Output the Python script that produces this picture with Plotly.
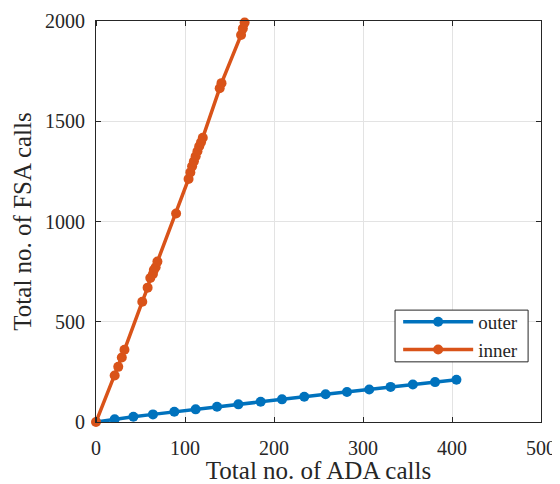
import plotly.graph_objects as go

outer_ada = [0, 21, 42, 64, 88, 112, 136, 160, 185, 209, 234, 258, 282, 307, 331, 356, 381, 405]
outer_fsa = [0, 14, 26, 38, 51, 63, 76, 88, 101, 113, 126, 138, 150, 162, 175, 187, 199, 211]

inner_ada = [0, 21, 25, 29, 32, 52, 58, 61, 64, 65, 67, 69, 90, 104, 106, 108, 110, 112, 114, 116, 118, 120, 139, 141, 163, 165, 167]
inner_fsa = [0, 232, 275, 322, 360, 600, 670, 718, 738, 758, 772, 800, 1040, 1212, 1245, 1275, 1300, 1325, 1350, 1375, 1395, 1418, 1665, 1690, 1930, 1962, 1992]

x_ticks = [0, 100, 200, 300, 400, 500]
y_ticks = [0, 500, 1000, 1500, 2000]

BLUE = "#0072BD"
ORANGE = "#D95319"
FONT = "Liberation Serif"
INK = "#262626"

fig = go.Figure()
fig.add_trace(go.Scatter(x=outer_ada, y=outer_fsa, mode="lines+markers", name="outer",
                         line=dict(color=BLUE, width=3.5), marker=dict(color=BLUE, size=10),
                         cliponaxis=True))
fig.add_trace(go.Scatter(x=inner_ada, y=inner_fsa, mode="lines+markers", name="inner",
                         line=dict(color=ORANGE, width=3.5), marker=dict(color=ORANGE, size=10),
                         cliponaxis=False))

axis_common = dict(showgrid=True, gridcolor="#e3e3e3", gridwidth=1, zeroline=False,
                   showline=True, linecolor=INK, linewidth=1, mirror="ticks",
                   tickfont=dict(family=FONT, size=20, color=INK))

fig.update_xaxes(range=[0, 500], tickvals=x_ticks, ticktext=[str(v) for v in x_ticks],
                 ticks="outside", ticklen=8, tickcolor="rgba(0,0,0,0)",
                 minor=dict(tickvals=x_ticks, ticks="inside", ticklen=5, tickcolor=INK, showgrid=False),
                 title=dict(text="Total no. of ADA calls", font=dict(family=FONT, size=25, color=INK), standoff=2),
                 **axis_common)
fig.update_yaxes(range=[0, 2000], tickvals=y_ticks, ticktext=[str(v) for v in y_ticks],
                 ticks="inside", ticklen=5, tickcolor=INK,
                 ticklabelstandoff=6,
                 title=dict(text="Total no. of FSA calls", font=dict(family=FONT, size=25, color=INK), standoff=6),
                 **axis_common)

# legend frame (matches the boxed legend of the reference)
fig.add_shape(type="rect", xref="paper", yref="paper",
              x0=0.672, x1=0.971, y0=0.150, y1=0.279,
              line=dict(color=INK, width=1), fillcolor="white", layer="above")

fig.update_layout(
    width=552, height=476,
    margin=dict(l=88, r=19, t=13, b=62, autoexpand=False),
    paper_bgcolor="white", plot_bgcolor="white",
    showlegend=True,
    legend=dict(x=0.679, y=0.2145, xanchor="left", yanchor="middle",
                bgcolor="rgba(0,0,0,0)", borderwidth=0,
                font=dict(family=FONT, size=19, color=INK),
                itemwidth=70, tracegroupgap=0),
)

fig.write_html("out.html")
